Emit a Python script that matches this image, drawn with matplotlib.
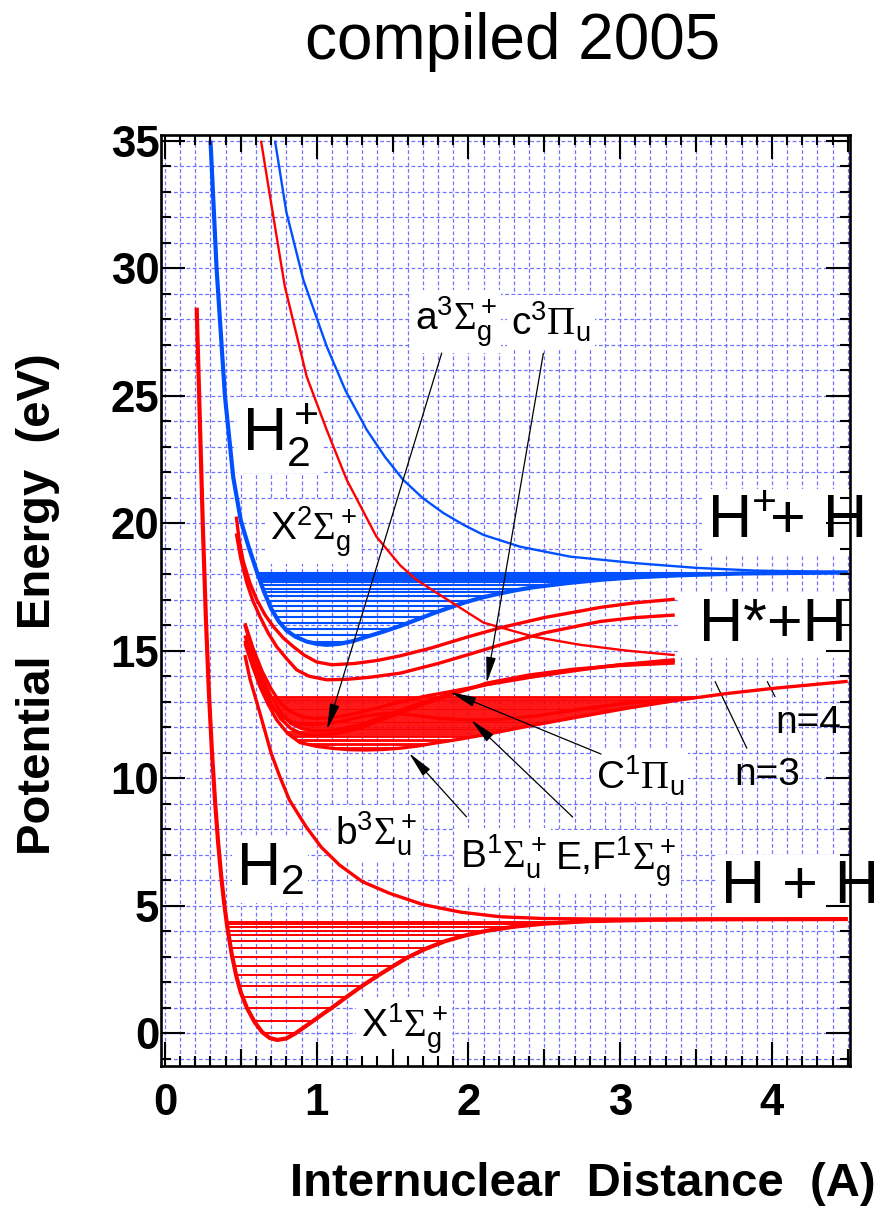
import numpy as np
import matplotlib
matplotlib.use("Agg")
import matplotlib.pyplot as plt
from matplotlib.ticker import MultipleLocator

plt.rcParams["font.family"] = ["Liberation Sans", "DejaVu Sans"]
plt.rcParams["mathtext.fontset"] = "custom"
plt.rcParams["mathtext.rm"] = "Liberation Sans"
plt.rcParams["mathtext.it"] = "Liberation Sans:italic"
plt.rcParams["mathtext.bf"] = "Liberation Sans:bold"
plt.rcParams["mathtext.sf"] = "Liberation Serif"

RED = "#ff0000"
BLUE = "#0050ff"

# --- potential curves, r in Angstrom, E in eV ---
# H2 ground state X1Sg+
x_X = [0.209, 0.23, 0.25, 0.27, 0.29, 0.31, 0.33, 0.35, 0.37, 0.39, 0.41, 0.44,
       0.47, 0.50, 0.54, 0.59, 0.64, 0.69, 0.74, 0.80, 0.86, 0.92, 0.98, 1.05,
       1.10, 1.20, 1.30, 1.40, 1.50, 1.60, 1.72, 1.85, 1.98, 2.12, 2.30, 2.50,
       2.80, 3.20, 3.60, 4.50]
y_X = [28.45, 24.0, 19.8, 16.2, 13.3, 11.0, 9.1, 7.5, 6.2, 5.1, 4.2, 3.1,
       2.25, 1.6, 1.0, 0.45, 0.05, -0.18, -0.26, -0.2, 0.0, 0.25, 0.5, 0.8,
       1.0, 1.44, 1.86, 2.25, 2.62, 2.98, 3.32, 3.62, 3.84, 4.02, 4.18, 4.3,
       4.4, 4.45, 4.47, 4.48]
lev_X = [0.0, 0.48, 1.0, 1.44, 1.86, 2.27, 2.64, 3.0, 3.33, 3.63, 3.85,
         4.02, 4.18, 4.29, 4.38]

# H2+ ground state X2Sg+
x_Hp = [0.30, 0.34, 0.395, 0.45, 0.50, 0.55, 0.60, 0.65, 0.70, 0.75, 0.80,
        0.86, 0.934, 1.0, 1.066, 1.15, 1.24, 1.33, 1.44, 1.55, 1.66, 1.77,
        1.88, 1.99, 2.10, 2.21, 2.32, 2.43, 2.65, 2.87, 3.10, 3.40, 3.80, 4.50]
y_Hp = [35.0, 30.0, 25.0, 21.8, 20.1, 19.1, 18.2, 17.35, 16.65, 16.15, 15.8,
        15.55, 15.36, 15.27, 15.23, 15.27, 15.38, 15.55, 15.75, 15.97, 16.22,
        16.47, 16.7, 16.92, 17.1, 17.25, 17.38, 17.49, 17.65, 17.78, 17.88,
        17.96, 18.03, 18.07]
lev_Hp = [15.35, 15.6, 15.86, 16.1, 16.33, 16.55, 16.76, 16.95, 17.13, 17.29,
          17.44, 17.57, 17.68, 17.78, 17.86, 17.93, 17.98, 18.02, 18.05]

# H2+ repulsive state
x_Hpu = [0.725, 0.80, 0.912, 1.066, 1.19, 1.33, 1.45, 1.57, 1.70, 1.835, 1.97,
         2.10, 2.34, 2.67, 3.11, 3.50, 3.90, 4.50]
y_Hpu = [35.0, 32.2, 29.54, 26.93, 25.2, 23.66, 22.6, 21.7, 20.98, 20.4, 19.93,
         19.54, 19.08, 18.69, 18.43, 18.25, 18.14, 18.09]

# H2 repulsive excited state
x_rep = [0.633, 0.69, 0.79, 0.934, 1.066, 1.198, 1.394, 1.55, 1.658, 1.77,
         2.10, 2.43, 2.74, 3.05, 3.36]
y_rep = [35.0, 32.9, 29.28, 25.75, 23.66, 21.7, 19.47, 18.35, 17.78, 17.35,
         16.1, 15.55, 15.23, 15.0, 14.83]

# higher bound states below the ion
x_u1 = [0.47, 0.49, 0.516, 0.56, 0.605, 0.66, 0.714, 0.78, 0.846, 0.92, 1.0,
        1.1, 1.25, 1.4, 1.55, 1.75, 2.0, 2.21, 2.5, 2.87, 3.1, 3.36]
y_u1 = [20.26, 19.3, 18.5, 17.65, 17.0, 16.4, 15.95, 15.5, 15.16, 14.82, 14.56,
        14.45, 14.5, 14.62, 14.8, 15.1, 15.55, 15.9, 16.3, 16.7, 16.88, 17.02]
x_u2 = [0.47, 0.50, 0.54, 0.58, 0.626, 0.68, 0.736, 0.80, 0.868, 0.95, 1.066,
        1.2, 1.35, 1.55, 1.8, 2.0, 2.21, 2.5, 2.87, 3.1, 3.36]
y_u2 = [19.6, 18.6, 17.65, 16.95, 16.34, 15.7, 15.16, 14.7, 14.25, 14.0, 13.86,
        13.88, 13.96, 14.12, 14.5, 14.85, 15.23, 15.7, 16.15, 16.3, 16.4]

# b3Su+
x_b = [0.527, 0.56, 0.626, 0.70, 0.757, 0.82, 0.93, 1.03, 1.15, 1.3, 1.48, 1.7,
       1.95, 2.21, 2.5, 2.9, 3.5, 4.5]
y_b = [14.83, 13.9, 12.55, 10.98, 10.06, 9.15, 8.1, 7.3, 6.6, 5.95, 5.49, 5.05,
       4.75, 4.57, 4.5, 4.48, 4.48, 4.48]

# B1Su+
x_B = [0.527, 0.58, 0.626, 0.68, 0.736, 0.81, 0.89, 1.0, 1.11, 1.22, 1.33,
       1.44, 1.55, 1.66, 1.77, 1.93, 2.1, 2.4, 2.74, 3.05, 3.39, 3.7, 4.0, 4.5]
y_B = [15.29, 14.35, 13.59, 12.9, 12.29, 11.75, 11.4, 11.25, 11.17, 11.12,
       11.11, 11.13, 11.18, 11.26, 11.37, 11.52, 11.7, 12.05, 12.42, 12.75,
       13.07, 13.32, 13.52, 13.8]

# a3Sg+, c3Pu, C1Pu share the same r grid
x_n3 = [0.527, 0.58, 0.64, 0.70, 0.76, 0.83, 0.9, 0.98, 1.06, 1.15, 1.3, 1.5,
        1.7, 1.9, 2.12, 2.4, 2.7, 3.0, 3.36]
y_a = [16.0, 14.95, 13.95, 13.2, 12.6, 12.15, 11.95, 11.86, 11.86, 11.92,
       12.12, 12.55, 12.98, 13.35, 13.68, 14.0, 14.25, 14.45, 14.6]
y_c = [15.6, 14.6, 13.7, 12.95, 12.35, 11.95, 11.75, 11.68, 11.7, 11.78, 12.0,
       12.45, 12.9, 13.3, 13.73, 14.05, 14.28, 14.42, 14.52]
y_C = [16.08, 15.1, 14.2, 13.5, 12.95, 12.6, 12.42, 12.35, 12.36, 12.42, 12.6,
       12.92, 13.2, 13.42, 13.67, 13.95, 14.22, 14.45, 14.65]

# E,F1Sg+ double well
x_EF = [0.527, 0.58, 0.64, 0.70, 0.76, 0.83, 0.9, 0.98, 1.06, 1.15, 1.3, 1.45,
        1.6, 1.8, 2.0, 2.2, 2.45, 2.75, 3.05, 3.39]
y_EF = [15.4, 14.4, 13.5, 12.85, 12.45, 12.22, 12.12, 12.1, 12.14, 12.22, 12.42,
        12.55, 12.5, 12.35, 12.29, 12.3, 12.45, 12.72, 12.95, 13.1]

lev_band = [11.19, 11.3, 11.36, 11.45, 11.52, 11.6, 11.67, 11.74, 11.82, 11.88,
            11.95, 12.02, 12.08, 12.16, 12.22, 12.3, 12.37, 12.44, 12.52, 12.58,
            12.66, 12.73, 12.8, 12.88, 12.94, 13.02, 13.08, 13.14, 13.2]

x_ticks = [0, 1, 2, 3, 4]
y_ticks = [0, 5, 10, 15, 20, 25, 30, 35]


def crossings(xs, ys, e):
    """r values where the polyline (xs, ys) passes the energy e."""
    out = []
    for i in range(len(xs) - 1):
        d0, d1 = ys[i] - e, ys[i + 1] - e
        if d0 == 0:
            out.append(xs[i])
        elif d0 * d1 < 0:
            out.append(xs[i] + (xs[i + 1] - xs[i]) * d0 / (d0 - d1))
    return out


def draw_levels(ax, xs, ys, energies, color, lw):
    for e in energies:
        hits = crossings(xs, ys, e)
        if not hits:
            continue
        right = max(hits) if len(hits) > 1 else xs[-1]
        ax.plot([min(hits), right], [e, e], color=color, lw=lw,
                solid_capstyle="butt", zorder=3.4)


fig = plt.figure(figsize=(8.88, 12.13), dpi=100)
rect = [0.181, 0.1212, 0.7762, 0.7675]
ax = fig.add_axes(rect)
xlim, ylim = (-0.028, 4.515), (-1.28, 35.22)
ax.set_xlim(*xlim)
ax.set_ylim(*ylim)
ax.xaxis.set_major_locator(MultipleLocator(1))
ax.xaxis.set_minor_locator(MultipleLocator(0.1))
ax.yaxis.set_major_locator(MultipleLocator(5))
ax.yaxis.set_minor_locator(MultipleLocator(1))
ax.set_axisbelow(True)
ax.grid(which="both", color="#7272ff", linestyle=(0, (3, 2)), linewidth=0.9)
ax.tick_params(which="both", length=0, labelbottom=False, labelleft=False)
for s in ax.spines.values():
    s.set_visible(False)

# curves sit above the white label boxes, which only blank out the grid
curve = dict(solid_joinstyle="round", solid_capstyle="butt", zorder=3.5)
ax.plot(x_X, y_X, color=RED, lw=3.0, **curve)
ax.plot(x_Hp, y_Hp, color=BLUE, lw=3.0, **curve)
ax.plot(x_Hpu, y_Hpu, color=BLUE, lw=1.7, **curve)
ax.plot(x_rep, y_rep, color=RED, lw=1.7, **curve)
for xs, ys in [(x_u1, y_u1), (x_u2, y_u2), (x_b, y_b), (x_B, y_B),
               (x_n3, y_a), (x_n3, y_c), (x_n3, y_C), (x_EF, y_EF)]:
    ax.plot(xs, ys, color=RED, lw=2.4, **curve)

draw_levels(ax, x_X, y_X, lev_X, RED, 1.4)
draw_levels(ax, x_Hp, y_Hp, lev_Hp, BLUE, 1.5)

# vibrational ladder of the n=2 manifold: from the a-state inner wall
# (or B where a is not bound yet) out to the B outer wall
for e in lev_band:
    hb = crossings(x_B, y_B, e)
    ha = crossings(x_n3, y_a, e)
    left = min(ha) if ha else min(hb)
    ax.plot([left, max(hb)], [e, e], color=RED, lw=1.3,
            solid_capstyle="butt", zorder=3.4)

box = dict(facecolor="white", edgecolor="none", pad=3)
big = dict(fontsize=44, ha="center", va="center", zorder=3, bbox=box)
small = dict(fontsize=28, ha="center", va="center", zorder=3, bbox=box)
ax.text(0.758, 23.46, r"H$_2^+$", **big)
ax.text(0.692, 6.4, r"H$_2$", **big)
ax.text(4.087, 20.05, r"H$^{+}\!$+ H", **big)
ax.text(3.95, 16.0, r" H*+H", **big)
ax.text(4.186, 5.70, "H + H", **big)
ax.text(0.976, 19.66, r"X$^2\mathsf{\Sigma}_\mathrm{g}^+$", **small)
ax.text(1.575, 0.17, r"X$^1\mathsf{\Sigma}_\mathrm{g}^+$", **small)
ax.text(1.918, 27.9, r"a$^3\mathsf{\Sigma}_\mathrm{g}^+$", **small)
ax.text(2.545, 27.9, r"c$^3\mathsf{\Pi}_\mathrm{u}$", **small)
ax.text(3.131, 10.09, r"C$^1\mathsf{\Pi}_\mathrm{u}$", **small)
ax.text(2.973, 6.72, r"E,F$^1\mathsf{\Sigma}_\mathrm{g}^+$", **small)
ax.text(2.228, 6.92, r"B$^1\mathsf{\Sigma}_\mathrm{u}^+$", **small)
ax.text(1.391, 7.82, r"b$^3\mathsf{\Sigma}_\mathrm{u}^+$", **small)
ax.text(4.239, 12.17, "n=4", fontsize=28, ha="center", va="center", zorder=3)
ax.text(3.968, 10.13, "n=3", fontsize=28, ha="center", va="center", zorder=3)

arrow = dict(arrowstyle="-|>,head_length=1.6,head_width=0.3", color="black",
             lw=0.9, mutation_scale=10, shrinkA=0, shrinkB=0)
for tip, start in [((1.068, 11.9), (1.824, 26.67)),
                   ((2.12, 13.73), (2.494, 26.66)),
                   ((1.879, 13.38), (2.874, 10.95)),
                   ((2.017, 12.29), (2.687, 8.48)),
                   ((1.608, 10.99), (1.987, 8.49))]:
    ax.annotate("", xy=tip, xytext=start, arrowprops=arrow, zorder=4)
line = dict(arrowstyle="-", color="black", lw=0.9, shrinkA=0, shrinkB=0)
ax.annotate("", xy=(3.97, 13.79), xytext=(4.021, 13.2), arrowprops=line)
ax.annotate("", xy=(3.626, 13.79), xytext=(3.835, 11.18), arrowprops=line)

# frame and ticks on a transparent overlay so they stay above label boxes
ax2 = fig.add_axes(rect, facecolor="none", label="frame")
ax2.set_xlim(*xlim)
ax2.set_ylim(*ylim)
ax2.set_xticks(x_ticks, [str(v) for v in x_ticks], fontsize=31.5,
               fontweight="bold")
ax2.set_yticks(y_ticks, [str(v) for v in y_ticks], fontsize=31.5,
               fontweight="bold")
ax2.xaxis.set_minor_locator(MultipleLocator(0.1))
ax2.yaxis.set_minor_locator(MultipleLocator(1))
ax2.tick_params(which="both", direction="in", top=True, right=True,
                width=1.5, color="black")
ax2.tick_params(which="major", length=17)
ax2.tick_params(which="minor", length=7)
ax2.tick_params(axis="x", pad=12.5)
ax2.tick_params(axis="y", pad=1)
for s in ax2.spines.values():
    s.set_linewidth(1.9)
for side in ("bottom", "top"):
    sec = ax2.secondary_xaxis(side)
    sec.set_xticks([0.5, 1.5, 2.5, 3.5, 4.5])
    sec.tick_params(direction="in", length=12, width=1.5,
                    labelbottom=False, labeltop=False)
    sec.spines[side].set_visible(False)

fig.text(0.577, 0.965, "compiled 2005", fontsize=46,
         ha="center", va="center")
fig.text(0.043, 0.502, "Potential  Energy  (eV)", fontsize=34,
         fontweight="bold", rotation=90, ha="center", va="center")
fig.text(0.656, 0.024, "Internuclear  Distance  (A)", fontsize=34,
         fontweight="bold", ha="center", va="center")

fig.savefig("out.png", dpi=100)
